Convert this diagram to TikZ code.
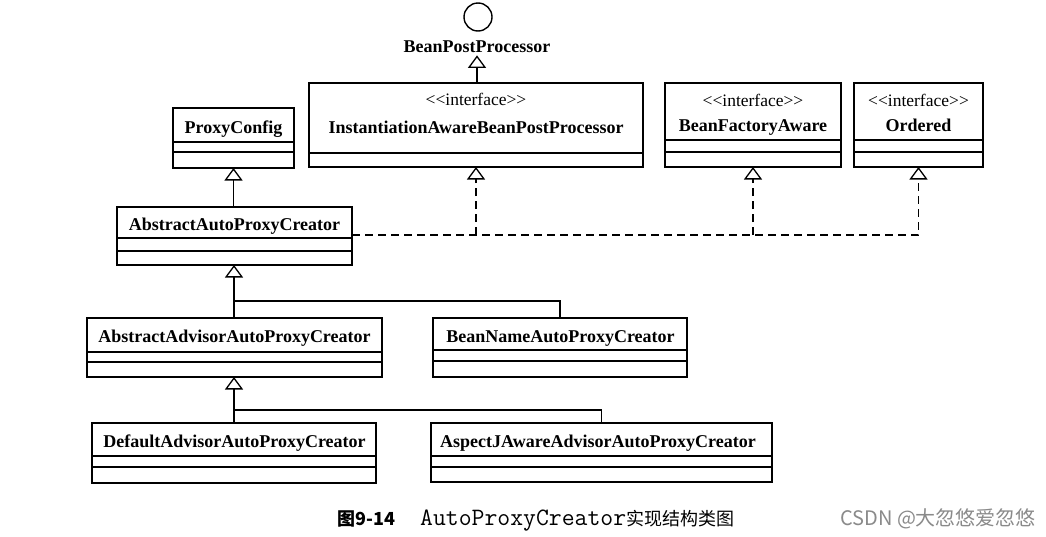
\documentclass[tikz,border=0pt]{standalone}
\usepackage{fontspec}
\setmainfont{Liberation Serif}
\newfontfamily\cjk{Noto Sans CJK SC}
\usetikzlibrary{arrows.meta}
\definecolor{wmgray}{HTML}{8A8A8A}
\newcommand{\stereotxt}{<{}<interface>{}>}
\begin{document}
\begin{tikzpicture}[x=1pt,y=-1pt,
  classbox/.style={draw, line width=1.5pt, rectangle, inner sep=0pt, outer sep=0pt, anchor=north west},
  sepline/.style={line width=1.3pt},
  cname/.style={font=\fontsize{18}{20}\selectfont\bfseries, inner sep=0pt, anchor=base},
  stereo/.style={font=\fontsize{17.5}{20}\selectfont, inner sep=0pt, anchor=base},
  inh/.style={line width=1.3pt, -{Triangle[open, width=18pt, length=12.5pt, line width=1.3pt]}},
  link/.style={line width=1.3pt},
  dlink/.style={line width=1.3pt, dash pattern=on 8pt off 5pt},
  dreal/.style={dlink, -{Triangle[open, width=18pt, length=12.5pt, line width=1.3pt]}},
]
\fill[white] (0,0) rectangle (1046,536);
\useasboundingbox (0,0) rectangle (1046,536);

% lollipop interface
\node[draw, circle, minimum size=28pt, inner sep=0pt, line width=1.4pt] (ball) at (478,17) {};
\node[cname] (bpp) at (477,52) {BeanPostProcessor};

% ProxyConfig
\node[classbox, minimum width=121pt, minimum height=60pt] (pc) at (173,108) {};
\draw[sepline] (pc.west |- 0,142) -- (pc.east |- 0,142);
\draw[sepline] (pc.west |- 0,152) -- (pc.east |- 0,152);
\node[cname] (pct) at (233.5,133) {ProxyConfig};

% InstantiationAwareBeanPostProcessor
\node[classbox, minimum width=334pt, minimum height=84pt] (iabpp) at (309,83) {};
\draw[sepline] (iabpp.west |- 0,153) -- (iabpp.east |- 0,153);
\node[stereo] (iabpps) at (476,105) {\stereotxt};
\node[cname] (iabppt) at (476,133) {InstantiationAwareBeanPostProcessor};

% BeanFactoryAware
\node[classbox, minimum width=176pt, minimum height=84pt] (bfa) at (665,83) {};
\draw[sepline] (bfa.west |- 0,140) -- (bfa.east |- 0,140);
\draw[sepline] (bfa.west |- 0,152) -- (bfa.east |- 0,152);
\node[stereo] (bfas) at (753,106) {\stereotxt};
\node[cname] (bfat) at (753,131) {BeanFactoryAware};

% Ordered
\node[classbox, minimum width=129pt, minimum height=84pt] (ord) at (854,83) {};
\draw[sepline] (ord.west |- 0,140) -- (ord.east |- 0,140);
\draw[sepline] (ord.west |- 0,152) -- (ord.east |- 0,152);
\node[stereo] (ords) at (918.5,106) {\stereotxt};
\node[cname] (ordt) at (918.5,131) {Ordered};

% AbstractAutoProxyCreator
\node[classbox, minimum width=235pt, minimum height=58pt] (aapc) at (117,207) {};
\draw[sepline] (aapc.west |- 0,238) -- (aapc.east |- 0,238);
\draw[sepline] (aapc.west |- 0,251) -- (aapc.east |- 0,251);
\node[cname] (aapct) at (234.5,230) {AbstractAutoProxyCreator};

% AbstractAdvisorAutoProxyCreator
\node[classbox, minimum width=295pt, minimum height=59pt] (aaapc) at (87,318) {};
\draw[sepline] (aaapc.west |- 0,352) -- (aaapc.east |- 0,352);
\draw[sepline] (aaapc.west |- 0,362) -- (aaapc.east |- 0,362);
\node[cname] (aaapct) at (234.5,342) {AbstractAdvisorAutoProxyCreator};

% BeanNameAutoProxyCreator
\node[classbox, minimum width=254pt, minimum height=59pt] (bnapc) at (433,318) {};
\draw[sepline] (bnapc.west |- 0,350) -- (bnapc.east |- 0,350);
\draw[sepline] (bnapc.west |- 0,361) -- (bnapc.east |- 0,361);
\node[cname] (bnapct) at (560.5,342) {BeanNameAutoProxyCreator};

% DefaultAdvisorAutoProxyCreator
\node[classbox, minimum width=284pt, minimum height=60pt] (daapc) at (92,423) {};
\draw[sepline] (daapc.west |- 0,456) -- (daapc.east |- 0,456);
\draw[sepline] (daapc.west |- 0,467) -- (daapc.east |- 0,467);
\node[cname] (daapct) at (234.5,447) {DefaultAdvisorAutoProxyCreator};

% AspectJAwareAdvisorAutoProxyCreator
\node[classbox, minimum width=341pt, minimum height=59pt] (aj) at (431,423) {};
\draw[sepline] (aj.west |- 0,456) -- (aj.east |- 0,456);
\draw[sepline] (aj.west |- 0,467) -- (aj.east |- 0,467);
\node[cname] (ajt) at (598,447) {AspectJAwareAdvisorAutoProxyCreator};

% connectors
\draw[inh] (iabpp.north -| 477,0) -- ([yshift=-3pt]bpp.south);
\draw[inh] (aapc.north -| pc.south) -- (pc.south);

\coordinate (rj) at (0,235);
\draw[dreal] (aapc.east |- rj) -| (ord.south);
\draw[dreal] (iabpp.south |- rj) -- (iabpp.south);
\draw[dreal] (bfa.south |- rj) -- (bfa.south);

\coordinate (j1) at (234,301);
\draw[inh] (aaapc.north -| j1) -- (aapc.south -| j1);
\draw[link] (j1) -| (bnapc.north);

\coordinate (j2) at (234,410);
\draw[inh] (daapc.north -| j2) -- (aaapc.south -| j2);
\draw[link] (j2) -| (aj.north);

% caption
\node[inner sep=0pt, anchor=base west, font=\fontsize{18}{20}\selectfont\cjk\bfseries] (capfig) at (337,525) {图9-14};
\node[inner sep=0pt, anchor=base west] (captxt) at (420,525) {{\fontsize{25}{27}\selectfont\ttfamily AutoProxyCreator}{\fontsize{18}{20}\selectfont\cjk 实现结构类图}};

% watermark
\node[inner sep=0pt, anchor=base west, text=wmgray, font=\fontsize{20}{22}\selectfont\cjk] (wm) at (840,525) {CSDN @大忽悠爱忽悠};
\end{tikzpicture}
\end{document}
